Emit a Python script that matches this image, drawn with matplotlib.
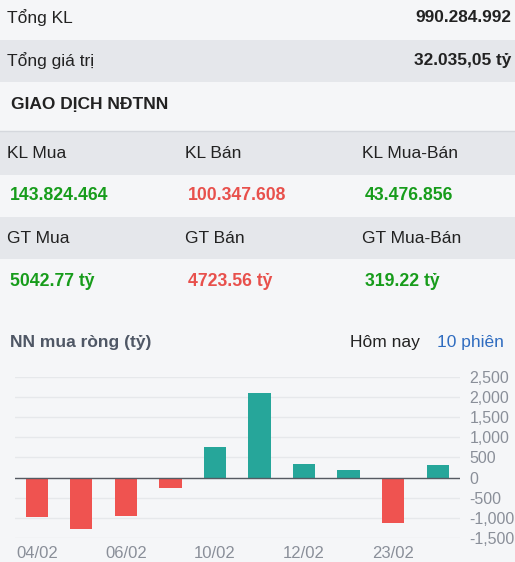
import matplotlib.pyplot as plt
from matplotlib.patches import Rectangle
from matplotlib.ticker import FuncFormatter

plt.rcParams['font.family'] = ['Liberation Sans', 'DejaVu Sans']

# summary table
tong_kl = "990.284.992"
tong_gt = "32.035,05 tỷ"
nn_headers_kl = ["KL Mua", "KL Bán", "KL Mua-Bán"]
nn_values_kl = ["143.824.464", "100.347.608", "43.476.856"]
nn_headers_gt = ["GT Mua", "GT Bán", "GT Mua-Bán"]
nn_values_gt = ["5042.77 tỷ", "4723.56 tỷ", "319.22 tỷ"]

# net foreign buying, last 10 sessions
dates = ["04/02", "05/02", "06/02", "07/02", "10/02", "11/02", "12/02", "13/02", "23/02", "24/02"]
net_buy = [-985, -1280, -945, -270, 762, 2090, 337, 190, -1116, 319.22]
yticks = [-1500, -1000, -500, 0, 500, 1000, 1500, 2000, 2500]

W, H = 515, 562
BG = "#f5f6f8"
GRAY = "#e5e7eb"
TXT = "#222222"
GREEN = "#179c1b"
RED = "#e8504c"

fig = plt.figure(figsize=(W / 100, H / 100), dpi=100, facecolor=BG)


def px(x, y):
    return x / W, 1 - y / H


def txt(x, y, s, **kw):
    fx, fy = px(x, y)
    fig.text(fx, fy, s, va="center", **kw)


def band(y0, y1, color):
    fig.patches.append(Rectangle(px(0, y1), 1, (y1 - y0) / H, transform=fig.transFigure,
                                 facecolor=color, edgecolor="none", zorder=0))


band(40, 82, GRAY)
band(132, 175, GRAY)
band(217, 259, GRAY)
fig.add_artist(plt.Line2D([0, 1], [1 - 131 / H] * 2, color="#d5d8dd", lw=1))

txt(7, 18, "Tổng KL", fontsize=12.5, color=TXT)
txt(511, 18, tong_kl, fontsize=12.4, color=TXT, fontweight="bold", ha="right")
txt(7, 61, "Tổng giá trị", fontsize=12.5, color=TXT)
txt(511, 61, tong_gt, fontsize=12.4, color=TXT, fontweight="bold", ha="right")
txt(11, 105, "GIAO DỊCH NĐTNN", fontsize=12.5, color=TXT, fontweight="bold")

cols = [7, 185, 362]
val_colors = [GREEN, RED, GREEN]
for i in range(3):
    txt(cols[i], 153, nn_headers_kl[i], fontsize=12.5, color=TXT)
    txt(cols[i] + 3, 196, nn_values_kl[i], fontsize=12.7, color=val_colors[i], fontweight="bold")
    txt(cols[i], 238, nn_headers_gt[i], fontsize=12.5, color=TXT)
    txt(cols[i] + 3, 281, nn_values_gt[i], fontsize=12.7, color=val_colors[i], fontweight="bold")

txt(10, 342, "NN mua ròng (tỷ)", fontsize=12.5, color="#4f5765", fontweight="bold")
txt(350, 342, "Hôm nay", fontsize=12.5, color=TXT)
txt(437, 342, "10 phiên", fontsize=12.5, color="#2f6cc0")

# bar chart
ax_l, ax_r, ax_t, ax_b = 14.5, 460, 376.7, 538
ax = fig.add_axes([ax_l / W, 1 - ax_b / H, (ax_r - ax_l) / W, (ax_b - ax_t) / H])
ax.set_facecolor("none")
xs = list(range(len(net_buy)))
colors = ["#26a69a" if v >= 0 else "#ef5350" for v in net_buy]
ax.bar(xs, net_buy, width=0.5, color=colors, zorder=2)
ax.set_xlim(-0.5, len(net_buy) - 0.5)
ax.set_ylim(yticks[0], yticks[-1])
ax.set_yticks(yticks)
ax.yaxis.tick_right()
ax.yaxis.set_major_formatter(FuncFormatter(lambda v, p: f"{int(v):,}"))
ax.tick_params(axis="y", length=0, pad=7, labelsize=11.5, labelcolor="#8a8f99")
ax.grid(axis="y", color="#e6e8eb", lw=1, zorder=0)
ax.axhline(0, color="#555a62", lw=1, zorder=3)
ax.set_xticks(xs[::2])
ax.set_xticklabels(dates[::2])
ax.tick_params(axis="x", length=0, pad=6, labelsize=12, labelcolor="#8a8f99")
for s in ax.spines.values():
    s.set_visible(False)

fig.savefig("out.png", dpi=100, facecolor=BG)
